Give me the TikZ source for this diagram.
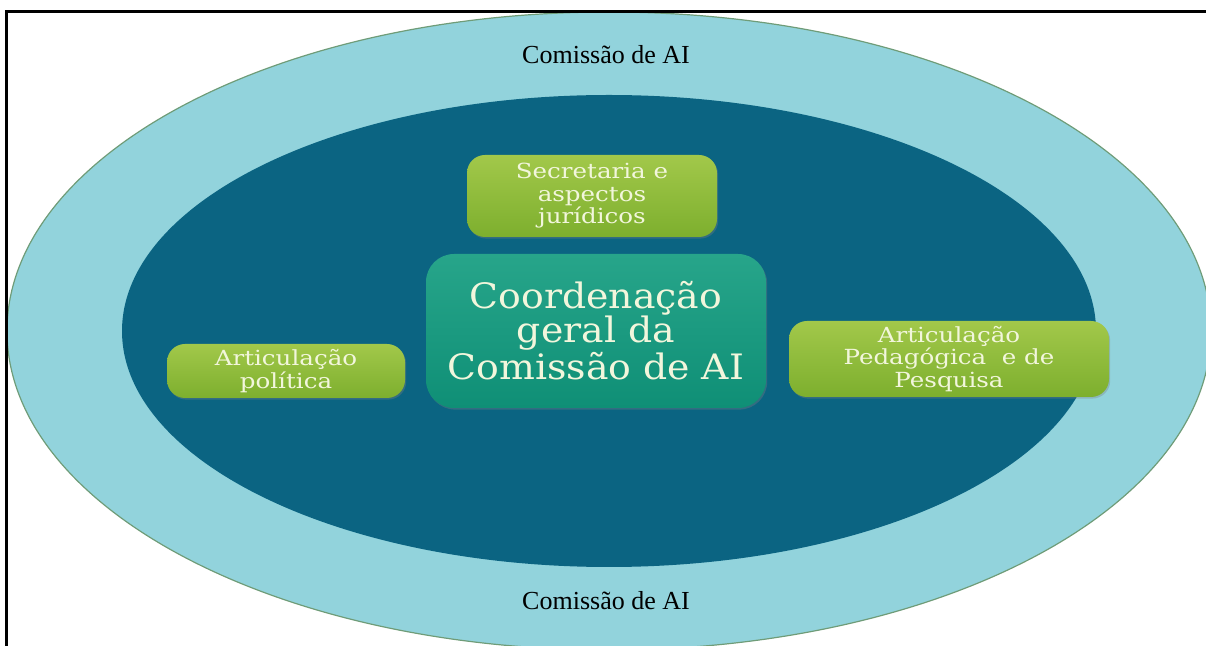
\documentclass[tikz,border=0pt]{standalone}
\usepackage{fontspec}
\setmainfont{DejaVu Serif}
\newfontfamily\ringfont{Liberation Serif}
\newfontfamily\boxfont[FakeStretch=1.18]{DejaVu Serif}
\newfontfamily\hubfont[FakeStretch=1.08]{DejaVu Serif}
\usetikzlibrary{shadows}
\definecolor{ringblue}{HTML}{92D3DC}
\definecolor{ringline}{HTML}{6F9C78}
\definecolor{coreblue}{HTML}{0B6482}
\definecolor{leaftop}{HTML}{A2C84A}
\definecolor{leafbot}{HTML}{7DAF2E}
\definecolor{hubtop}{HTML}{27A58A}
\definecolor{hubbot}{HTML}{0F8F76}
\definecolor{cream}{HTML}{F2F6DC}
\tikzset{
  boxshadow/.style={drop shadow={shadow xshift=0.6pt, shadow yshift=-0.8pt, opacity=0.35}},
  leafbox/.style={rounded corners=9pt, top color=leaftop, bottom color=leafbot,
    text=cream, align=center, font=\boxfont\fontsize{10.4}{11.25}\selectfont,
    inner sep=0pt, boxshadow},
  hubbox/.style={rounded corners=14pt, top color=hubtop, bottom color=hubbot,
    text=cream, align=center, font=\hubfont\fontsize{17.5}{17}\selectfont,
    inner sep=0pt, boxshadow},
  ringlabel/.style={font=\ringfont\fontsize{13}{15}\selectfont}
}
\begin{document}
\begin{tikzpicture}[x=0.5pt,y=-0.5pt]
    \useasboundingbox (0,0) rectangle (1206,646);
    % Rings
    \fill[ringblue, draw=ringline, line width=0.6pt] (609,331) ellipse [x radius=602, y radius=319];
    \fill[coreblue] (609,331) ellipse [x radius=487, y radius=236];

    % Frame
    \draw[line width=1.5pt] (6,646) -- (6,12) -- (1206,12);

    % Ring labels
    \node[ringlabel] (toplabel) at (606,55) {Comissão de AI};
    \node[ringlabel] (botlabel) at (606,601) {Comissão de AI};

    % Central box
    \node[hubbox, minimum width=170pt, minimum height=77pt] (hub) at (596,331)
        {Coordenação\\geral da\\Comissão de AI};

    % Surrounding boxes
    \node[leafbox, minimum width=125pt, minimum height=41pt] (secretaria) at (592,196)
        {Secretaria e\\aspectos\\jurídicos};
    \node[leafbox, minimum width=119pt, minimum height=27pt] (politica) at (286,371)
        {Articulação\\política};
    \node[leafbox, minimum width=160pt, minimum height=38pt] (pedagogica) at (949,359)
        {Articulação\\Pedagógica~ e de\\Pesquisa};
\end{tikzpicture}
\end{document}
